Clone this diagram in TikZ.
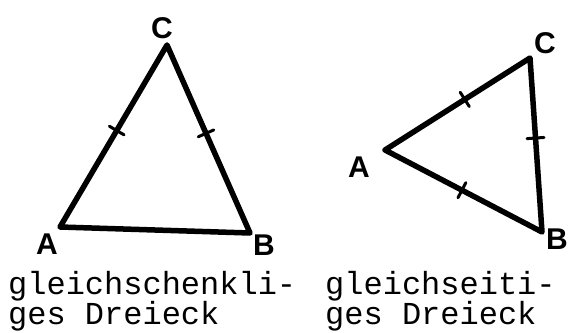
\documentclass[tikz,border=0pt]{standalone}
\usepackage{fontspec}
\setmonofont{Liberation Mono}
\setsansfont{Liberation Sans}
\tikzset{
  side/.style={line width=5.5pt, line join=round, line cap=round},
  tick/.style={draw, line width=3pt, sloped, inner sep=0pt,
    minimum width=0pt, minimum height=17pt},
  vlabel/.style={font=\sffamily\bfseries\fontsize{30}{30}\selectfont, inner sep=0pt},
  caption/.style={font=\ttfamily\fontsize{32}{30}\selectfont, align=left,
    anchor=north west, inner sep=0pt}
}
\begin{document}
\begin{tikzpicture}[x=1pt, y=-1pt]
  \useasboundingbox (0,0) rectangle (570,332);

  % gleichschenkliges Dreieck
  \coordinate (lA) at (60,227);
  \coordinate (lB) at (250,233);
  \coordinate (lC) at (167,45);
  \draw[side] (lA) -- node[tick, pos=0.53] (lt1) {} (lC)
    -- node[tick, pos=0.47] (lt2) {} (lB) -- cycle;
  \node[vlabel] (lAl) at (47,244) {A};
  \node[vlabel] (lBl) at (264,245) {B};
  \node[vlabel] (lCl) at (162,28) {C};

  % gleichseitiges Dreieck
  \coordinate (rA) at (385,150);
  \coordinate (rB) at (542,232);
  \coordinate (rC) at (530,58);
  \draw[side] (rA) -- node[tick, pos=0.55] (rt1) {} (rC)
    -- node[tick, pos=0.46] (rt2) {} (rB)
    -- node[tick, pos=0.51] (rt3) {} (rA);
  \node[vlabel] (rAl) at (359,167) {A};
  \node[vlabel] (rBl) at (557,239) {B};
  \node[vlabel] (rCl) at (545,43) {C};

  \node[caption] (lcap) at (8,271) {gleichschenkli-\\ges Dreieck};
  \node[caption] (rcap) at (325,271) {gleichseiti-\\ges Dreieck};
\end{tikzpicture}
\end{document}
